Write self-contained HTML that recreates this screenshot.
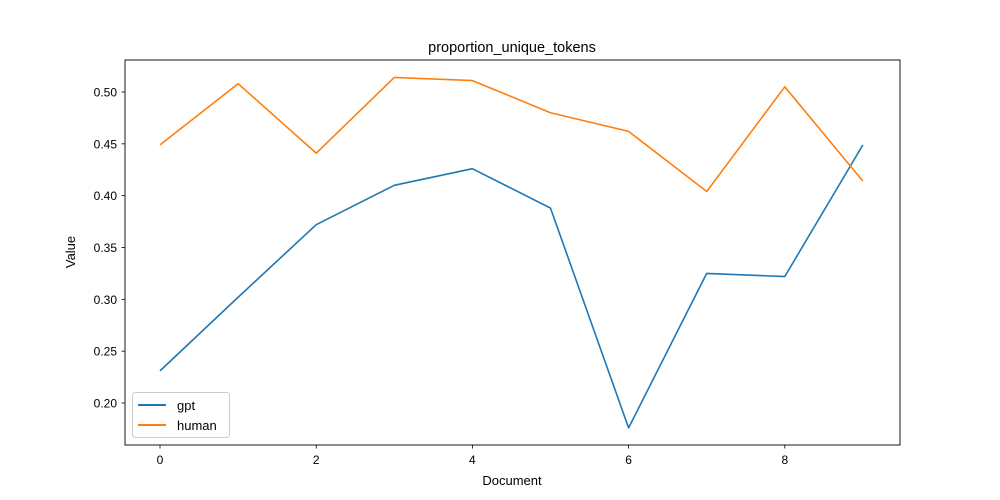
<!DOCTYPE html>
<html><head><meta charset="utf-8"><style>
body{margin:0;background:#fff;}
svg{display:block;font-family:"Liberation Sans","DejaVu Sans",sans-serif;}
</style></head><body>
<svg id="chart" width="1000" height="500" viewBox="0 0 1000 500">
<rect width="1000" height="500" fill="#fff"/>
<text x="512" y="52" text-anchor="middle" font-size="14.5">proportion_unique_tokens</text>
<g id="axes"></g>
<g id="series"></g>
<rect x="125" y="60" width="775" height="385" fill="none" stroke="#000" stroke-width="0.9"/>
<text x="512" y="485" text-anchor="middle" font-size="13">Document</text>
<text transform="translate(75,252) rotate(-90)" text-anchor="middle" font-size="13">Value</text>
<g>
<rect x="132.5" y="392.5" width="97" height="45" rx="3" fill="#fff" fill-opacity="0.8" stroke="#ccc"/>
<line x1="138" y1="405" x2="166" y2="405" stroke="#1f77b4" stroke-width="2"/>
<text x="177" y="410" font-size="13">gpt</text>
<line x1="138" y1="425" x2="166" y2="425" stroke="#ff7f0e" stroke-width="2"/>
<text x="177" y="430" font-size="13">human</text>
</g>
</svg>
<script>
const docs=[0,1,2,3,4,5,6,7,8,9];
const gptValues=[0.231,0.302,0.372,0.410,0.426,0.388,0.176,0.325,0.322,0.449];
const humanValues=[0.449,0.508,0.441,0.514,0.511,0.480,0.462,0.404,0.505,0.414];
const xTicks=[0,2,4,6,8];
const yTicks=[0.20,0.25,0.30,0.35,0.40,0.45,0.50];
const ns="http://www.w3.org/2000/svg";
function xs(i){return 160+78.1*i;}
function ys(v){return 403-(v-0.2)*1036.7;}
const axes=document.getElementById('axes');
function mk(tag,attrs,parent){const e=document.createElementNS(ns,tag);for(const k in attrs)e.setAttribute(k,attrs[k]);parent.appendChild(e);return e;}
xTicks.forEach(t=>{
  const l=mk('line',{x1:xs(t),x2:xs(t),y1:445,y2:448.5,stroke:'#000','stroke-width':0.8},axes);
  
  
  const tx=mk('text',{x:xs(t),y:464,'text-anchor':'middle','font-size':12},axes);
  tx.textContent=t;
  
  
});
yTicks.forEach(t=>{
  const l=mk('line',{x1:121.5,x2:125,y1:ys(t),y2:ys(t),stroke:'#000','stroke-width':0.8},axes);
  
  
  const tx=mk('text',{x:117,y:ys(t)+4.5,'text-anchor':'end','font-size':12},axes);
  tx.textContent=t.toFixed(2);
  
  
});
const g=document.getElementById('series');
function line(vals,color,name){
  const p=mk('polyline',{points:vals.map((v,i)=>xs(docs[i])+','+ys(v)).join(' '),fill:'none',stroke:color,'stroke-width':1.6,'stroke-linejoin':'round'},g);
  
  
}
line(gptValues,'#1f77b4','gpt-line');
line(humanValues,'#ff7f0e','human-line');
</script>
</body></html>
